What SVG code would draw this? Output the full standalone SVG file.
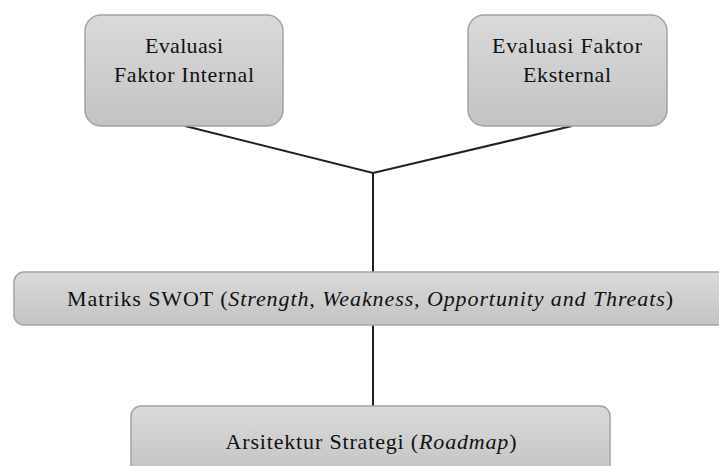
<svg xmlns="http://www.w3.org/2000/svg" width="719" height="466" viewBox="0 0 719 466">
<defs>
<linearGradient id="g" x1="0" y1="0" x2="0" y2="1">
<stop offset="0" stop-color="#dadada"/>
<stop offset="1" stop-color="#c3c3c3"/>
</linearGradient>
</defs>
<style>
.box{fill:url(#g);stroke:#a3a3a3;stroke-width:1.5}
.t{font-family:Tinos,"Times New Roman",Times,"Liberation Serif","Noto Serif","DejaVu Serif",serif;font-size:22px;fill:#111;text-anchor:middle}
.i{font-style:italic}
.c{stroke:#222;stroke-width:2;fill:none}
</style>
<rect width="719" height="466" fill="#fff"/>
<g id="connectors">
<path class="c" d="M185 126 L373 173 L572 126"/>
<path class="c" d="M373 173 V272"/>
<path class="c" d="M373 325 V406"/>
</g>
<g id="internal">
<rect class="box" x="85" y="15" width="198" height="111" rx="16"/>
<text class="t" x="184" y="53" textLength="78" lengthAdjust="spacing">Evaluasi</text>
<text class="t" x="184" y="82" textLength="140" lengthAdjust="spacing">Faktor Internal</text>
</g>
<g id="eksternal">
<rect class="box" x="468" y="15" width="199" height="111" rx="16"/>
<text class="t" x="567" y="53" textLength="150" lengthAdjust="spacing">Evaluasi Faktor</text>
<text class="t" x="567" y="82" textLength="88" lengthAdjust="spacing">Eksternal</text>
</g>
<g id="swot">
<rect class="box" x="14" y="272" width="720" height="53" rx="10"/>
<text class="t" x="370" y="306" textLength="606" lengthAdjust="spacing">Matriks SWOT (<tspan class="i">Strength, Weakness, Opportunity and Threats</tspan>)</text>
</g>
<g id="roadmap">
<rect class="box" x="131" y="406" width="479" height="70" rx="10"/>
<text class="t" x="371" y="449" textLength="291" lengthAdjust="spacing">Arsitektur Strategi (<tspan class="i">Roadmap</tspan>)</text>
</g>
</svg>
